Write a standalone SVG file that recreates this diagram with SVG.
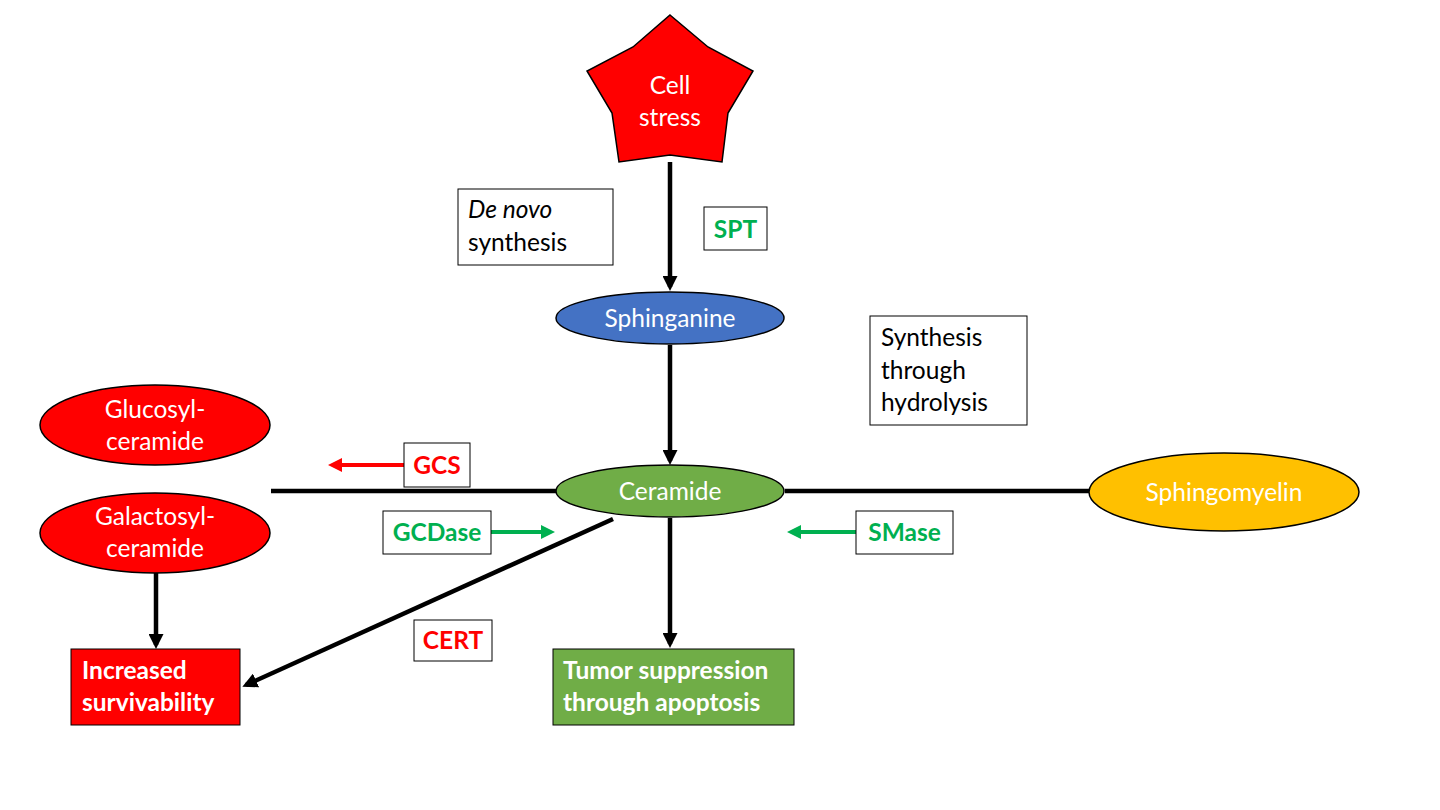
<svg xmlns="http://www.w3.org/2000/svg" width="1440" height="810" viewBox="0 0 1440 810">
<style>
text{font-family:Lato,"Liberation Sans",sans-serif;font-size:24.5px}
.w{fill:#FFFFFF;text-anchor:middle}
.wb{fill:#FFFFFF;font-weight:bold}
.k{fill:#000000}
.g{fill:#00B050;font-weight:bold;text-anchor:middle}
.r{fill:#FF0000;font-weight:bold;text-anchor:middle}
.box{fill:#FFFFFF;stroke:#000000;stroke-width:1}
.node{stroke:#000000;stroke-width:1.5}
.ln{stroke:#000000;stroke-width:4.5;fill:none}
</style>
<defs>
<marker id="ak" markerUnits="userSpaceOnUse" markerWidth="15" markerHeight="15" refX="11" refY="7.5" orient="auto"><path d="M0,0 L15,7.5 L0,15 z" fill="#000000"/></marker>
<marker id="ar" markerUnits="userSpaceOnUse" markerWidth="14" markerHeight="14" refX="10" refY="7" orient="auto"><path d="M0,0 L14,7 L0,14 z" fill="#FF0000"/></marker>
<marker id="ag" markerUnits="userSpaceOnUse" markerWidth="14" markerHeight="14" refX="10" refY="7" orient="auto"><path d="M0,0 L14,7 L0,14 z" fill="#00B050"/></marker>
</defs>
<rect width="1440" height="810" fill="#FFFFFF"/>
<g id="connectors">
<line class="ln" x1="670" y1="162" x2="670" y2="287" marker-end="url(#ak)"/>
<line class="ln" x1="670" y1="345" x2="670" y2="461" marker-end="url(#ak)"/>
<line class="ln" x1="271" y1="491" x2="556" y2="491"/>
<line class="ln" x1="785" y1="491" x2="1089" y2="491"/>
<line class="ln" x1="670" y1="518" x2="670" y2="644" marker-end="url(#ak)"/>
<line class="ln" x1="156" y1="573" x2="156" y2="645" marker-end="url(#ak)"/>
<line class="ln" x1="613" y1="519" x2="246" y2="685" marker-end="url(#ak)"/>
<line x1="404" y1="465" x2="332" y2="465" stroke="#FF0000" stroke-width="4" marker-end="url(#ar)"/>
<line x1="491" y1="532" x2="551" y2="532" stroke="#00B050" stroke-width="4" marker-end="url(#ag)"/>
<line x1="856" y1="532" x2="791" y2="532" stroke="#00B050" stroke-width="4" marker-end="url(#ag)"/>
</g>
<g id="cell-stress">
<path class="node" fill="#FF0000" d="M670,15 L708,47 L753,71 L728,113 L722,162 L670,155 L619,162 L612,113 L587,71 L633,47 Z"/>
<text class="w" x="670" y="94">Cell</text>
<text class="w" x="670" y="126">stress</text>
</g>
<g id="de-novo">
<rect class="box" x="458" y="189" width="155" height="76"/>
<text class="k" x="468" y="218"><tspan font-style="italic">De novo</tspan></text>
<text class="k" x="468" y="251">synthesis</text>
</g>
<g id="spt">
<rect class="box" x="704" y="207" width="63" height="43"/>
<text class="g" x="735.5" y="238">SPT</text>
</g>
<g id="sphinganine">
<ellipse class="node" cx="670" cy="318" rx="114" ry="26" fill="#4472C4"/>
<text class="w" x="670" y="327">Sphinganine</text>
</g>
<g id="hydrolysis">
<rect class="box" x="870" y="316" width="157" height="109"/>
<text class="k" x="881" y="346">Synthesis</text>
<text class="k" x="881" y="379">through</text>
<text class="k" x="881" y="411">hydrolysis</text>
</g>
<g id="glucosyl">
<ellipse class="node" cx="155" cy="425" rx="115" ry="40" fill="#FF0000"/>
<text class="w" x="155" y="418">Glucosyl-</text>
<text class="w" x="155" y="450">ceramide</text>
</g>
<g id="galactosyl">
<ellipse class="node" cx="155" cy="533" rx="115" ry="40" fill="#FF0000"/>
<text class="w" x="155" y="525">Galactosyl-</text>
<text class="w" x="155" y="557">ceramide</text>
</g>
<g id="gcs">
<rect class="box" x="404" y="443" width="66" height="44"/>
<text class="r" x="437" y="474">GCS</text>
</g>
<g id="ceramide">
<ellipse class="node" cx="670" cy="491" rx="114" ry="26" fill="#70AD47"/>
<text class="w" x="670" y="500">Ceramide</text>
</g>
<g id="sphingomyelin">
<ellipse class="node" cx="1224" cy="492" rx="135" ry="39" fill="#FFC000"/>
<text class="w" x="1224" y="501">Sphingomyelin</text>
</g>
<g id="gcdase">
<rect class="box" x="383" y="511" width="108" height="43"/>
<text class="g" x="437" y="541">GCDase</text>
</g>
<g id="smase">
<rect class="box" x="856" y="511" width="97" height="43"/>
<text class="g" x="904.5" y="541">SMase</text>
</g>
<g id="cert">
<rect class="box" x="414" y="620" width="78" height="41"/>
<text class="r" x="453" y="649">CERT</text>
</g>
<g id="increased">
<rect x="71" y="649" width="169" height="76" fill="#FF0000" stroke="#000000" stroke-width="1"/>
<text class="wb" x="82" y="679">Increased</text>
<text class="wb" x="82" y="711">survivability</text>
</g>
<g id="tumor">
<rect x="553" y="649" width="241" height="76" fill="#70AD47" stroke="#000000" stroke-width="1"/>
<text class="wb" x="563" y="679">Tumor suppression</text>
<text class="wb" x="563" y="711">through apoptosis</text>
</g>
</svg>
